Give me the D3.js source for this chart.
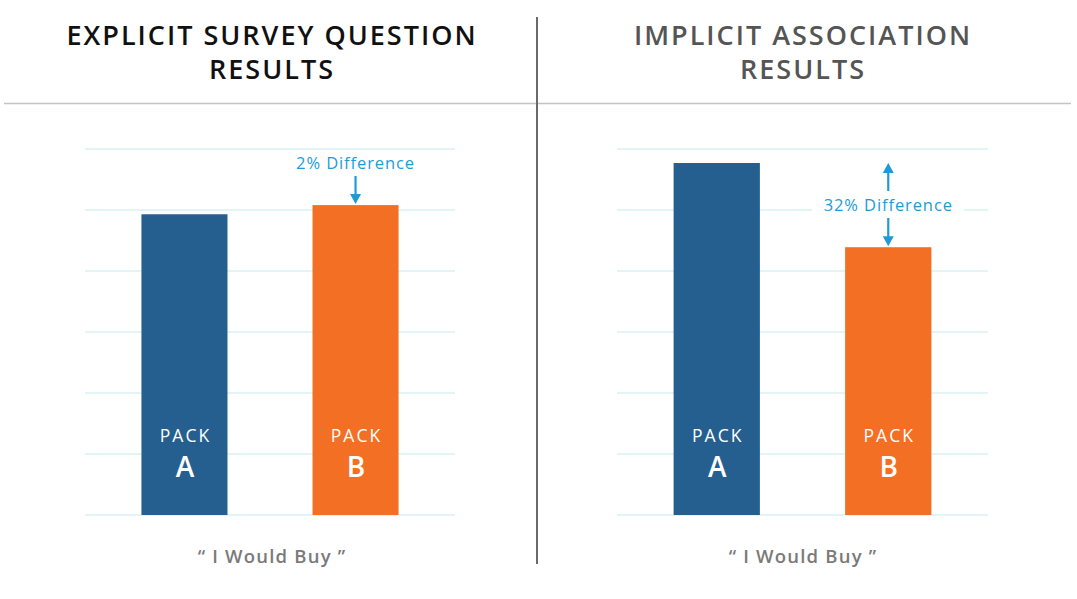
<!DOCTYPE html>
<html><head><meta charset="utf-8">
<script src="https://cdn.jsdelivr.net/npm/d3@7"></script>
<style>
html,body{margin:0;padding:0;background:#fff;}
svg{display:block;}
text{font-family:"Open Sans","Noto Sans",sans-serif;}
</style></head>
<body>
<svg id="c" width="1077" height="599"></svg>
<script>
// ---- data ----
const categories = ["A", "B"];
const explicitValues = [4.93, 5.08];
const implicitValues = [5.77, 4.39];
const gridTicks = [0, 1, 2, 3, 4, 5, 6];
const panelTitles = [["EXPLICIT SURVEY QUESTION", "RESULTS"], ["IMPLICIT ASSOCIATION", "RESULTS"]];
const axisLabel = "\u201C I Would Buy \u201D";
const annotations = ["2% Difference", "32% Difference"];

const colors = {A: "#245f8f", B: "#f26f23"};
const blue = "#1e9bd7";
const svg = d3.select("#c");

// frame lines
svg.append("line").attr("x1", 4).attr("x2", 1071).attr("y1", 103.5).attr("y2", 103.5)
  .attr("stroke", "#c4c4c4").attr("stroke-width", 1.5);
svg.append("line").attr("x1", 537).attr("x2", 537).attr("y1", 17).attr("y2", 564)
  .attr("stroke", "#6a6a6a").attr("stroke-width", 2);

const y = d3.scaleLinear().domain([0, 6]).range([515, 149]);

const panels = [
  {values: explicitValues, x0: 85, x1: 455, title: panelTitles[0], titleColor: "#111", cx: 272},
  {values: implicitValues, x0: 617, x1: 988, title: panelTitles[1], titleColor: "#555", cx: 803}
];

panels.forEach((p, pi) => {
  const g = svg.append("g");
  const x = d3.scaleBand().domain(categories).range([p.x0, p.x1]).paddingInner(0.497).paddingOuter(0.33);

  // title (two lines in one text element)
  const tt = g.append("text").attr("text-anchor", "middle")
    .attr("font-size", 27).attr("font-weight", 600).attr("letter-spacing", 2)
    .attr("fill", p.titleColor);
  p.title.forEach((t, i) => {
    tt.append("tspan").attr("x", p.cx).attr("y", 45 + i * 34).text(t);
  });

  // gridlines
  g.selectAll(".grid").data(gridTicks).join("line")
    .attr("x1", p.x0).attr("x2", p.x1)
    .attr("y1", d => y(d)).attr("y2", d => y(d))
    .attr("stroke", "#c6e9ee").attr("stroke-width", 1.2);

  // bars
  g.selectAll(".bar").data(categories).join("rect")
    .attr("x", d => x(d)).attr("width", x.bandwidth())
    .attr("y", (d, i) => y(p.values[i])).attr("height", (d, i) => y(0) - y(p.values[i]))
    .attr("fill", d => colors[d]);

  // labels in bars
  categories.forEach(c => {
    const cx = x(c) + x.bandwidth() / 2 + 1;
    g.append("text").attr("x", cx).attr("y", 441.5).attr("text-anchor", "middle").attr("fill", "#fff")
      .attr("font-size", 17.5).attr("letter-spacing", 2).text("PACK");
    g.append("text").attr("x", cx).attr("y", 477).attr("text-anchor", "middle").attr("fill", "#fff")
      .attr("font-size", 28).attr("font-weight", 600).attr("letter-spacing", 1).text(c);
  });

  // bottom label
  g.append("text").attr("x", p.cx).attr("y", 563).attr("text-anchor", "middle")
    .attr("font-size", 18.5).attr("font-weight", 600).attr("letter-spacing", 1.2)
    .attr("fill", "#7a7a7a").text(axisLabel);

  // annotations
  const cxB = x("B") + x.bandwidth() / 2;
  const arrow = (xx, yFrom, yTo) => {
    const dir = yTo > yFrom ? -1 : 1;
    g.append("line").attr("x1", xx).attr("x2", xx).attr("y1", yFrom).attr("y2", yTo + dir * 8)
      .attr("stroke", blue).attr("stroke-width", 2.2);
    g.append("path").attr("d", `M${xx - 5.5},${yTo + dir * 10} L${xx + 5.5},${yTo + dir * 10} L${xx},${yTo} Z`).attr("fill", blue);
  };
  if (pi === 0) {
    g.append("text").attr("x", cxB).attr("y", 169).attr("text-anchor", "middle")
      .attr("font-size", 16.5).attr("letter-spacing", 0.9).attr("fill", blue).text(annotations[0]);
    arrow(cxB, 176, y(p.values[1]) - 1);
  } else {
    const ty = y(5);
    g.append("rect").attr("x", cxB - 76).attr("y", ty - 12).attr("width", 152).attr("height", 22).attr("fill", "#fff");
    g.append("text").attr("x", cxB).attr("y", ty + 1).attr("text-anchor", "middle")
      .attr("font-size", 16.5).attr("letter-spacing", 0.9).attr("fill", blue).text(annotations[1]);
    arrow(cxB, 191, y(p.values[0]));
    arrow(cxB, 218, y(p.values[1]) - 1);
  }
});
</script>
</body></html>
